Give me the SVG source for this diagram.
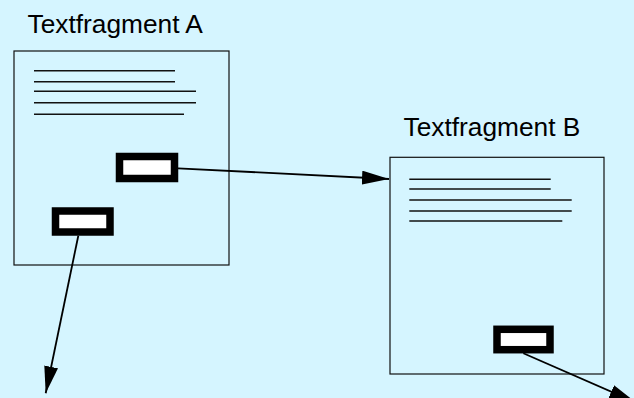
<svg xmlns="http://www.w3.org/2000/svg" width="634" height="398" viewBox="0 0 634 398">
<defs>
<style>
.frame{fill:none;stroke:#111;stroke-width:1.2}
.txt{stroke:#111;stroke-width:1.6}
.anchor{fill:#fff;stroke:#000;stroke-width:7.5}
.label{font-family:"Liberation Sans",Arial,sans-serif;font-size:26.3px;fill:#000}
.conn{stroke:#000;stroke-width:1.8;fill:none}
</style>
<marker id="ah" viewBox="0 0 27 14" refX="27" refY="7" markerWidth="27" markerHeight="14" markerUnits="userSpaceOnUse" orient="auto">
<path d="M0,0 L27,7 L0,14 Z" fill="#000"/>
</marker>
</defs>
<rect width="634" height="398" fill="#d5f5ff"/>
<g id="fragmentA">
<text class="label" x="27.5" y="33">Textfragment A</text>
<rect class="frame" x="14" y="51" width="215" height="214"/>
<line class="txt" x1="34" y1="70.7" x2="175" y2="70.7"/>
<line class="txt" x1="34" y1="81.7" x2="175" y2="81.7"/>
<line class="txt" x1="34" y1="91.3" x2="196" y2="91.3"/>
<line class="txt" x1="34" y1="102.7" x2="196" y2="102.7"/>
<line class="txt" x1="34" y1="114.3" x2="184" y2="114.3"/>
<rect class="anchor" x="119.5" y="156.5" width="55" height="22"/>
<rect class="anchor" x="55.5" y="211" width="54.5" height="21"/>
</g>
<g id="fragmentB">
<text class="label" x="403.5" y="136">Textfragment B</text>
<rect class="frame" x="390" y="157.3" width="214" height="216.7"/>
<line class="txt" x1="409.3" y1="179.3" x2="550.7" y2="179.3"/>
<line class="txt" x1="409.3" y1="189" x2="550.7" y2="189"/>
<line class="txt" x1="409.3" y1="200" x2="571.7" y2="200"/>
<line class="txt" x1="409.3" y1="211" x2="571.7" y2="211"/>
<line class="txt" x1="409.3" y1="221" x2="562.3" y2="221"/>
<rect class="anchor" x="497" y="329.3" width="53" height="20.4"/>
</g>
<g id="connectors">
<line class="conn" x1="178" y1="168.3" x2="389" y2="179" marker-end="url(#ah)"/>
<line class="conn" x1="78.3" y1="235.7" x2="45.7" y2="393.3" marker-end="url(#ah)"/>
<line class="conn" x1="523.3" y1="353.3" x2="636" y2="402.5" marker-end="url(#ah)"/>
</g>
</svg>
